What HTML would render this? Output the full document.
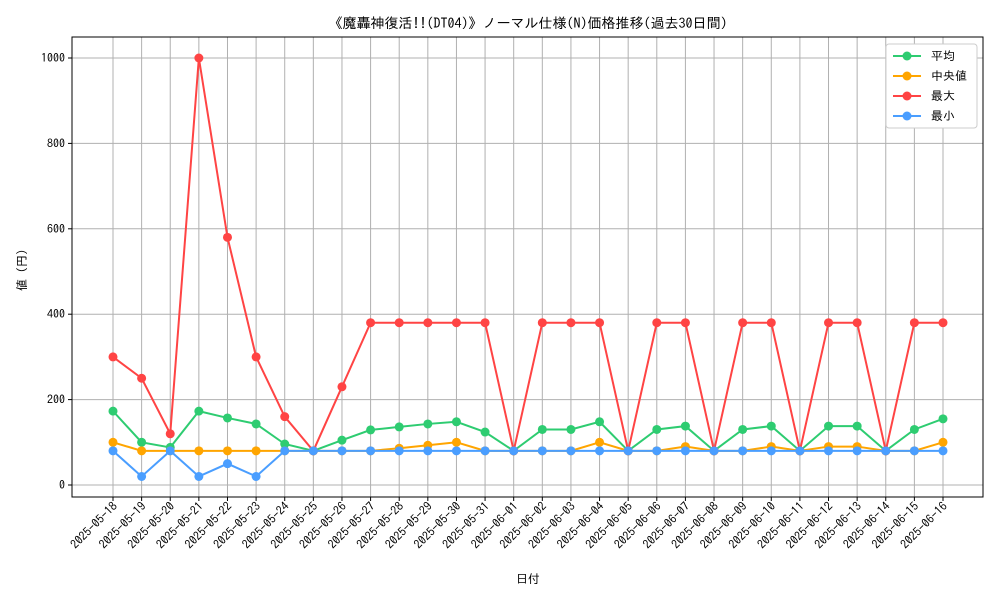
<!DOCTYPE html>
<html><head><meta charset="utf-8">
<style>
body{margin:0;background:#fff;}
svg{display:block;font-family:"IPAGothic","Noto Sans CJK JP",sans-serif;}
</style></head>
<body>
<svg id="chart" width="1000" height="600"></svg>
<script>
const categories=["2025-05-18","2025-05-19","2025-05-20","2025-05-21","2025-05-22","2025-05-23","2025-05-24","2025-05-25","2025-05-26","2025-05-27","2025-05-28","2025-05-29","2025-05-30","2025-05-31","2025-06-01","2025-06-02","2025-06-03","2025-06-04","2025-06-05","2025-06-06","2025-06-07","2025-06-08","2025-06-09","2025-06-10","2025-06-11","2025-06-12","2025-06-13","2025-06-14","2025-06-15","2025-06-16"];
const avgValues=[173,100,88,173,157,143,96,80,105,129,136,143,148,124,80,130,130,148,80,130,138,80,130,138,80,138,138,80,130,155];
const medianValues=[100,80,80,80,80,80,80,80,80,80,86,93,100,80,80,80,80,100,80,80,90,80,80,90,80,90,90,80,80,100];
const maxValues=[300,250,120,1000,580,300,160,80,230,380,380,380,380,380,80,380,380,380,80,380,380,80,380,380,80,380,380,80,380,380];
const minValues=[80,20,80,20,50,20,80,80,80,80,80,80,80,80,80,80,80,80,80,80,80,80,80,80,80,80,80,80,80,80];
const yTicks=[0,200,400,600,800,1000];
const seriesNames=["平均","中央値","最大","最小"];

const svg=document.getElementById('chart');
const NS="http://www.w3.org/2000/svg";
const L=72,R=983,T=37,B=497;
const xScale=i=>113+i*(943-113)/(categories.length-1);
const yScale=v=>485-v*0.427;
function mk(tag,attrs,parent){const e=document.createElementNS(NS,tag);for(const k in attrs)e.setAttribute(k,attrs[k]);(parent||svg).appendChild(e);return e;}

const grid=mk('g',{});


categories.forEach((c,i)=>{const x=xScale(i);
 mk('line',{x1:x,x2:x,y1:T,y2:B,stroke:'#b0b0b0','stroke-width':1},grid);
 mk('line',{x1:x,x2:x,y1:B,y2:B+4,stroke:'#000','stroke-width':1},svg);
 const t=mk('text',{x:x+5,y:B+10,'font-size':12,'text-anchor':'end',transform:`rotate(-45 ${x+5} ${B+10})`});
 
 
 t.textContent=c;});
yTicks.forEach(v=>{const y=yScale(v);
 mk('line',{x1:L,x2:R,y1:y,y2:y,stroke:'#b0b0b0','stroke-width':1},grid);
 mk('line',{x1:L-4,x2:L,y1:y,y2:y,stroke:'#000'});
 const t=mk('text',{x:L-7,y:y+4,'font-size':12,'text-anchor':'end'});
 
 
 t.textContent=v;});
const frame=mk('rect',{x:L,y:T,width:R-L,height:B-T,fill:'none',stroke:'#000','stroke-width':1});



const series=[[avgValues,'#2ecc71'],[medianValues,'#ffa500'],[maxValues,'#ff4444'],[minValues,'#4a9eff']];
series.forEach(([vals,col],si)=>{
 const g=mk('g',{});
 
 
 mk('polyline',{points:vals.map((v,i)=>xScale(i)+','+yScale(v)).join(' '),fill:'none',stroke:col,'stroke-width':2},g);
 vals.forEach((v,i)=>{const c=mk('circle',{cx:xScale(i),cy:yScale(v),r:4.5,fill:col},g);
  
  });
});

const title=mk('text',{x:528,y:28,'font-size':14,'text-anchor':'middle'});


title.textContent='《魔轟神復活!!(DT04)》ノーマル仕様(N)価格推移(過去30日間)';
const xt=mk('text',{x:528,y:583,'font-size':12,'text-anchor':'middle'});


xt.textContent='日付';
const yt=mk('text',{x:26,y:270,'font-size':12,'text-anchor':'middle',transform:'rotate(-90 26 270)'});


yt.textContent='値 (円)';

const lg=mk('g',{});


mk('rect',{x:886,y:44,width:91,height:84,fill:'#fff',stroke:'#ccc',rx:3},lg);
series.forEach(([v,col],i)=>{const y=56+i*20;
 const e=mk('g',{},lg);
 
 
 mk('line',{x1:893,x2:921,y1:y,y2:y,stroke:col,'stroke-width':2},e);
 mk('circle',{cx:907,cy:y,r:4.5,fill:col},e);
 const t=mk('text',{x:931,y:y+4,'font-size':12},e);
 t.textContent=(i==1?' ':'')+seriesNames[i];});
</script>
</body></html>
